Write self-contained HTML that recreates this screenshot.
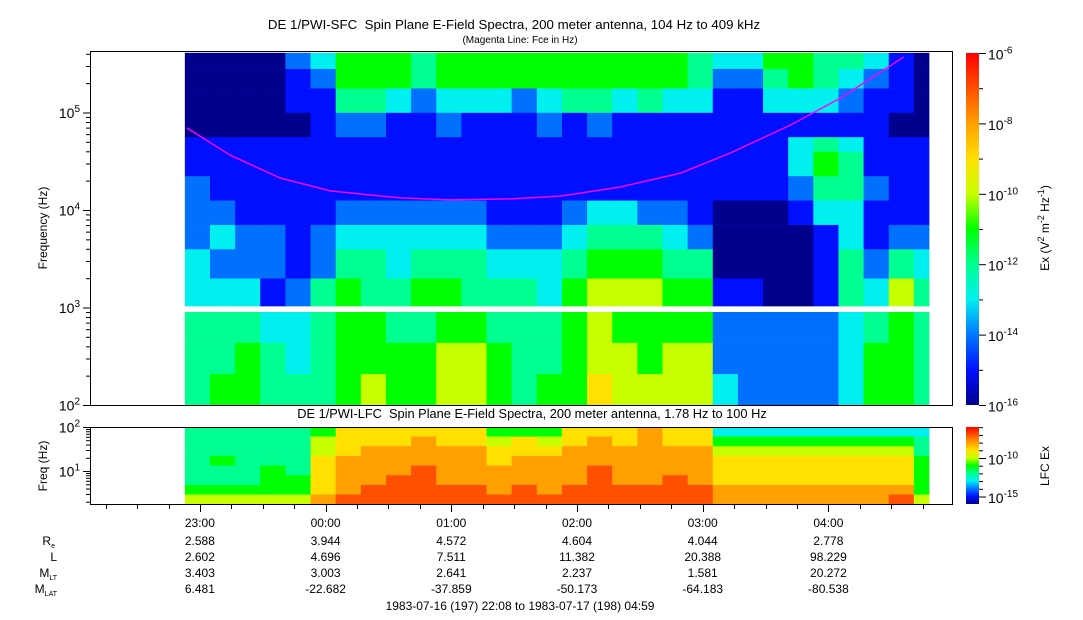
<!DOCTYPE html>
<html><head><meta charset="utf-8"><title>DE 1 PWI spectra</title>
<style>
html,body{margin:0;padding:0;background:#fff;}
svg{display:block;font-family:"Liberation Sans",Arial,sans-serif;}
text{fill:#000;white-space:pre;}
</style></head>
<body>
<svg id="chart" width="1083" height="620" viewBox="0 0 1083 620" xmlns="http://www.w3.org/2000/svg">
<defs>
<linearGradient id="cmap" x1="0" y1="1" x2="0" y2="0">
<stop offset="0" stop-color="#00008c"/><stop offset="0.1" stop-color="#0010ff"/><stop offset="0.2" stop-color="#0078ff"/>
<stop offset="0.3" stop-color="#00f0f0"/><stop offset="0.4" stop-color="#00ff90"/><stop offset="0.5" stop-color="#00ff00"/>
<stop offset="0.6" stop-color="#c8ff00"/><stop offset="0.7" stop-color="#ffe000"/><stop offset="0.8" stop-color="#ffa000"/>
<stop offset="0.9" stop-color="#ff5000"/><stop offset="1" stop-color="#ff0000"/>
</linearGradient>
</defs>
<text x="514" y="29" font-size="13.3" text-anchor="middle">DE 1/PWI-SFC  Spin Plane E-Field Spectra, 200 meter antenna, 104 Hz to 409 kHz</text>
<text x="520" y="43" font-size="10" text-anchor="middle">(Magenta Line: Fce in Hz)</text>
<text x="532" y="418" font-size="12.8" text-anchor="middle">DE 1/PWI-LFC  Spin Plane E-Field Spectra, 200 meter antenna, 1.78 Hz to 100 Hz</text>
<g id="sfcCells"></g>
<g id="lfcCells"></g>
<polyline id="fce" fill="none" stroke="#ff00ff" stroke-width="1.5"/>
<rect x="90.5" y="51.5" width="862" height="354" fill="none" stroke="#000"/>
<rect x="90.5" y="427.5" width="862" height="77" fill="none" stroke="#000"/>
<g id="axes"></g>
<text transform="translate(47,228) rotate(-90)" font-size="12" text-anchor="middle">Frequency (Hz)</text>
<text transform="translate(47,466) rotate(-90)" font-size="12" text-anchor="middle">Freq (Hz)</text>
<rect x="966" y="53" width="13" height="352" fill="url(#cmap)"/>
<rect x="966" y="427" width="13" height="77" fill="url(#cmap)"/>
<text transform="translate(1049,228) rotate(-90)" font-size="12" text-anchor="middle">Ex (V<tspan dy="-5" font-size="9">2</tspan><tspan dy="5"> m</tspan><tspan dy="-5" font-size="9">-2</tspan><tspan dy="5"> Hz</tspan><tspan dy="-5" font-size="9">-1</tspan><tspan dy="5">)</tspan></text>
<text transform="translate(1049,466) rotate(-90)" font-size="12" text-anchor="middle">LFC Ex</text>
<g font-size="12" text-anchor="end">
<text x="55" y="545">R<tspan font-size="7" dy="3">e</tspan></text>
<text x="57" y="561">L</text>
<text x="57" y="577">M<tspan font-size="7" dy="3">LT</tspan></text>
<text x="57" y="593">M<tspan font-size="7" dy="3">LAT</tspan></text>
</g>
<g id="ephem"></g>
<text x="520" y="610" font-size="12" text-anchor="middle">1983-07-16 (197) 22:08 to 1983-07-17 (198) 04:59</text>
</svg>
<script>
// ---- data ----
const tStart = 22.1333, tEnd = 28.9833;          // hours after 1983-07-16 00:00
const colStart0 = 22.88, colStep = 0.2, colEnd = 28.80;
const levelColors = ["#00008c","#0010ff","#0070ff","#00f0f0","#00ff90","#00ff00","#c8ff00","#ffe000","#ffa000","#ff5000","#ff0000"];
// SFC rows: log10(freq) edges, bottom -> top
const sfcRowEdges = [[2.0,2.32],[2.32,2.64],[2.64,2.954],[3.015,3.3],[3.3,3.6],[3.6,3.85],[3.85,4.1],[4.1,4.35],[4.35,4.6],[4.6,4.75],[4.75,5.0],[5.0,5.25],[5.25,5.45],[5.45,5.612]];
// SFC levels (0 = 1e-16 ... 10 = 1e-6), bottom row first
const sfcLevels = [
"455444565566545576666322223554",
"445434555566544566566222223554",
"444334554455444565555222223454",
"333124544554443566655110014364",
"322212443444333455544000014243",
"232212333333222344432000013122",
"221111222222111233221000133111",
"211111111111111111111111244211",
"111111111111111111111111354111",
"111111111111111111111111343111",
"000001221121112121111111111100",
"000011443233323443433113332110",
"000012555455555555554224543210",
"000023555455555555554335544310"];
const lfcRowEdges = [[0.25,0.47],[0.47,0.69],[0.69,0.91],[0.91,1.13],[1.13,1.35],[1.35,1.57],[1.57,1.79],[1.79,2.0]];
const lfcLevels = [
"666668999999999999999888888896",
"555557899999898999999888888885",
"444557889988888898898777777775",
"444547888988888898888777777775",
"454447888888788888888777777775",
"444446788888777888888666666664",
"444446777877676787877555555554",
"444445777777555777877333333333"];
// electron gyrofrequency line
const fceTimes = [22.897,23.24,23.638,24.036,24.593,24.991,25.469,25.867,26.345,26.823,27.221,27.699,28.097,28.416,28.599];
const fceHz = [69300,36600,21300,15700,13300,12700,13000,13900,17200,23900,38500,74500,141000,260000,371000];
const timeTicks = [23,24,25,26,27,28];
const timeLabels = ["23:00","00:00","01:00","02:00","03:00","04:00"];
const ephRe = ["2.588","3.944","4.572","4.604","4.044","2.778"];
const ephL = ["2.602","4.696","7.511","11.382","20.388","98.229"];
const ephMLT = ["3.403","3.003","2.641","2.237","1.581","20.272"];
const ephMLAT = ["6.481","-22.682","-37.859","-50.173","-64.183","-80.538"];

// ---- scales ----
const NS="http://www.w3.org/2000/svg";
const X0=91, X1=952;
const xT = t => X0 + (t - tStart)/(tEnd - tStart)*(X1-X0);
const ySfc = lf => 405 - (lf-2)*97.5;
const yLfc = lf => 504 - (lf-0.25)*44;
const yCb = lg => 405 - (lg+16)*35.2;
const yCbL = lg => 458 - (lg+10)*7.7;
function mk(tag, attrs, parent){const e=document.createElementNS(NS,tag);for(const k in attrs)e.setAttribute(k,attrs[k]);parent.appendChild(e);return e;}

function drawHeat(gid, edges, levels, yf, nm){
  const g=document.getElementById(gid);
  levels.forEach((row,ri)=>{
    for(let c=0;c<row.length;c++){
      const t0=colStart0+c*colStep, t1=Math.min(colStart0+(c+1)*colStep,colEnd);
      const x0=xT(t0), x1=xT(t1);
      const ya=yf(edges[ri][1]), yb=yf(edges[ri][0]);
      const r=mk('rect',{x:x0.toFixed(2),y:ya.toFixed(2),width:(x1-x0+0.4).toFixed(2),height:(yb-ya+0.3).toFixed(2),fill:levelColors[+row[c]]},g);
      
      
    }
  });
}
drawHeat('sfcCells',sfcRowEdges,sfcLevels,ySfc,'sfc-cell');
drawHeat('lfcCells',lfcRowEdges,lfcLevels,yLfc,'lfc-cell');

document.getElementById('fce').setAttribute('points',fceTimes.map((t,i)=>xT(t).toFixed(1)+','+ySfc(Math.log10(fceHz[i])).toFixed(1)).join(' '));

const ax=document.getElementById('axes');
function line(x1,y1,x2,y2){mk('line',{x1,y1,x2,y2,stroke:'#000','stroke-width':1},ax);}
function pow(x,y,exp,anchor){
  const t=mk('text',{x,y,'font-size':14,'text-anchor':anchor||'end'},ax);
  
  
  t.appendChild(document.createTextNode('10'));
  const s=mk('tspan',{dy:-6,'font-size':10},t); s.textContent=exp;
}
// SFC y-axis
for(let d=2; d<=5; d++){
  const y=ySfc(d)+0.5; line(83,y,90,y); pow(80,y+5,String(d));
  for(let m=2;m<=9;m++){const lf=d+Math.log10(m); if(lf>5.612) break; const yy=ySfc(lf)+0.5; line(86,yy,90,yy);}
}
// LFC y-axis
for(let d=0; d<=2; d++){
  const y=yLfc(d)+0.5; if(d>=1){line(83,y,90,y); pow(80,y+5,String(d));}
  if(d<2) for(let m=2;m<=9;m++){const lf=d+Math.log10(m); if(lf<0.25) continue; const yy=yLfc(lf)+0.5; line(86,yy,90,yy);}
}
// time axis
for(let t=22.25; t<tEnd; t+=0.25){
  const x=Math.round(xT(t))+0.5; const major=Math.abs(t-Math.round(t))<1e-6;
  line(x,505,x,major?512:509);
}
const eg=document.getElementById('ephem');
timeTicks.forEach((t,i)=>{
  const x=xT(t);
  [[timeLabels,527],[ephRe,545],[ephL,561],[ephMLT,577],[ephMLAT,593]].forEach(([arr,y])=>{
    const tx=mk('text',{x:x.toFixed(1),y,'font-size':12,'text-anchor':'middle'},eg);
    
    
    tx.textContent=arr[i];
  });
});
// SFC colorbar ticks
for(let lg=-16; lg<=-6; lg++){
  const y=yCb(lg)+0.5; const major=(lg%2===0);
  line(979,y,major?986:983,y);
  if(major) pow(988,y+6,String(lg),'start');
}
// LFC colorbar ticks
for(let lg=-15; lg<=-6; lg++){
  const y=yCbL(lg)+0.5; const major=(lg%5===0);
  line(979,y,major?986:983,y);
  if(major) pow(988,y+6,String(lg),'start');
}
</script>
</body></html>
